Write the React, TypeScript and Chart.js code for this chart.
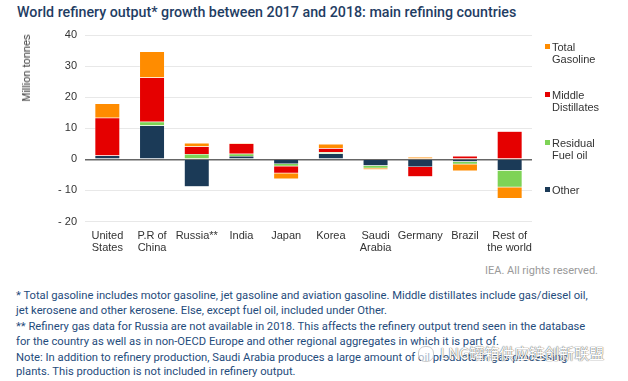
import React, { useEffect, useRef } from "react";
import { Chart, registerables } from "chart.js";

Chart.register(...registerables);

const categories: string[][] = [
  ["United", "States"],
  ["P.R of", "China"],
  ["Russia**"],
  ["India"],
  ["Japan"],
  ["Korea"],
  ["Saudi", "Arabia"],
  ["Germany"],
  ["Brazil"],
  ["Rest of", "the world"],
];

const other = [1.2, 10.9, -8.8, 1.1, -1.5, 1.9, -2.1, -2.5, -0.75, -3.6];
const residualFuelOil = [-0.2, 1.2, 1.7, 0.7, -0.75, 0.35, -0.75, 0, -0.85, -5.4];
const middleDistillates = [12.2, 14.2, 2.4, 3.3, -2.25, 1.3, 0.3, -3.1, 1.1, 9.0];
const totalGasoline = [4.6, 8.4, 1.15, 0.25, -1.8, 1.4, -0.5, 0.75, -2.15, -3.6];

const yTicks = [-20, -10, 0, 10, 20, 30, 40];

const COLORS = {
  gasoline: "#ff8c00",
  middle: "#e50000",
  residual: "#7ed356",
  other: "#1b3a57",
};

const legendItems = [
  { label: ["Total", "Gasoline"], color: COLORS.gasoline, top: 41 },
  { label: ["Middle", "Distillates"], color: COLORS.middle, top: 89 },
  { label: ["Residual", "Fuel oil"], color: COLORS.residual, top: 137 },
  { label: ["Other"], color: COLORS.other, top: 184 },
];

const footnotes = [
  "* Total gasoline includes motor gasoline, jet gasoline and aviation gasoline. Middle distillates include gas/diesel oil,",
  "jet kerosene and other kerosene. Else, except fuel oil, included under Other.",
  "** Refinery gas data for Russia are not available in 2018. This affects the refinery output trend seen in the database",
  "for the country as well as in non-OECD Europe and other regional aggregates in which it is part of.",
  "Note: In addition to refinery production, Saudi Arabia produces a large amount of oil products in gas processing",
  "plants. This production is not included in refinery output.",
];
const footnoteTops = [289, 304, 320, 335, 351, 365];

export default function App() {
  const canvasRef = useRef<HTMLCanvasElement | null>(null);

  useEffect(() => {
    const canvas = canvasRef.current;
    if (!canvas) return;
    const mk = (label: string, data: number[], color: string) => ({
      label,
      data,
      backgroundColor: color,
      borderColor: "rgba(255,255,255,0.6)",
      borderWidth: 0.5,
      barPercentage: 0.56,
      categoryPercentage: 1,
    });
    const chart = new Chart(canvas, {
      type: "bar",
      data: {
        labels: categories,
        datasets: [
          mk("Other", other, COLORS.other),
          mk("Residual Fuel oil", residualFuelOil, COLORS.residual),
          mk("Middle Distillates", middleDistillates, COLORS.middle),
          mk("Total Gasoline", totalGasoline, COLORS.gasoline),
        ],
      },
      options: {
        responsive: false,
        animation: false,
        maintainAspectRatio: false,
        layout: { padding: { top: 35, right: 96, left: 0, bottom: 0 } },
        plugins: {
          legend: { display: false },
          tooltip: { enabled: false },
        },
        scales: {
          x: {
            stacked: true,
            grid: { display: false },
            border: { display: false },
            ticks: {
              color: "#333",
              font: { family: "Liberation Sans", size: 11, lineHeight: 1.1 },
              padding: 0,
              maxRotation: 0,
              autoSkip: false,
            },
            afterFit: (s: any) => {
              s.height = 38.5;
            },
          },
          y: {
            stacked: true,
            min: -20,
            max: 40,
            afterBuildTicks: (s: any) => {
              s.ticks = yTicks.map((v) => ({ value: v }));
            },
            grid: {
              drawTicks: false,
              color: (ctx: any) => (ctx.tick && ctx.tick.value === 0 ? "#666666" : "#e8e8e8"),
              lineWidth: (ctx: any) => (ctx.tick && ctx.tick.value === 0 ? 1.5 : 1),
            },
            border: { display: false },
            ticks: {
              color: "#333",
              font: { family: "Liberation Sans", size: 11 },
              padding: 8,
              callback: (v: any) => (Number(v) < 0 ? "- " + Math.abs(Number(v)) : String(v)),
            },
            afterFit: (s: any) => {
              s.width = 85;
            },
          },
        },
      },
    });
    return () => chart.destroy();
  }, []);

  return (
    <div
      style={{
        position: "fixed",
        left: 0,
        top: 0,
        width: 628,
        height: 381,
        background: "#fff",
        overflow: "hidden",
      }}
    >
      <div
        style={{
          position: "absolute",
          left: 17,
          top: 4,
          fontFamily: "Roboto",
          fontWeight: 500,
          fontSize: 14.25,
          color: "#1f3d63",
          whiteSpace: "nowrap",
          lineHeight: "17px",
        }}
      >
        World refinery output* growth between 2017 and 2018: main refining countries
      </div>
      <canvas
        ref={canvasRef}
        width={628}
        height={260}
        style={{ position: "absolute", left: 0, top: 0, width: 628, height: 260 }}
      />
      <div
        style={{
          position: "absolute",
          left: 26,
          top: 68,
          transform: "translate(-50%, -50%) rotate(-90deg)",
          fontFamily: "Liberation Sans",
          fontSize: 11,
          color: "#333",
          whiteSpace: "nowrap",
        }}
      >
        Million tonnes
      </div>
      {legendItems.map((it) => (
        <div
          key={it.label.join(" ")}
          style={{ position: "absolute", left: 545, top: it.top, fontFamily: "Liberation Sans", fontSize: 11, color: "#333", lineHeight: "12px" }}
        >
          <div style={{ position: "absolute", left: 0, top: 3, width: 5, height: 5, background: it.color }} />
          <div style={{ position: "absolute", left: 7, top: 0, whiteSpace: "nowrap" }}>
            {it.label.map((l) => (
              <div key={l}>{l}</div>
            ))}
          </div>
        </div>
      ))}
      <div
        style={{
          position: "absolute",
          right: 30,
          top: 264,
          fontFamily: "Roboto",
          fontSize: 11,
          color: "#9a9a9a",
          whiteSpace: "nowrap",
        }}
      >
        IEA. All rights reserved.
      </div>
      {footnotes.map((t, i) => (
        <div
          key={i}
          style={{
            position: "absolute",
            left: 16,
            top: footnoteTops[i],
            fontFamily: "Roboto",
            fontSize: 11.23,
            color: "#1f4c7c",
            whiteSpace: "nowrap",
            lineHeight: "14px",
          }}
        >
          {t}
        </div>
      ))}
      <div
        style={{
          position: "absolute",
          left: 418,
          top: 346,
          width: 14,
          height: 14,
          borderRadius: 7,
          border: "1px solid #ccc",
          background: "rgba(255,255,255,0.6)",
        }}
      />
      <div
        style={{
          position: "absolute",
          left: 440,
          top: 344,
          fontFamily: "Noto Sans CJK SC",
          fontSize: 15,
          color: "#ffffff",
          whiteSpace: "nowrap",
          textShadow: "0 0 1px #666, 0 0 1px #666",
          lineHeight: "18px",
        }}
      >
        LNG罐箱供应链创新联盟
      </div>
    </div>
  );
}
